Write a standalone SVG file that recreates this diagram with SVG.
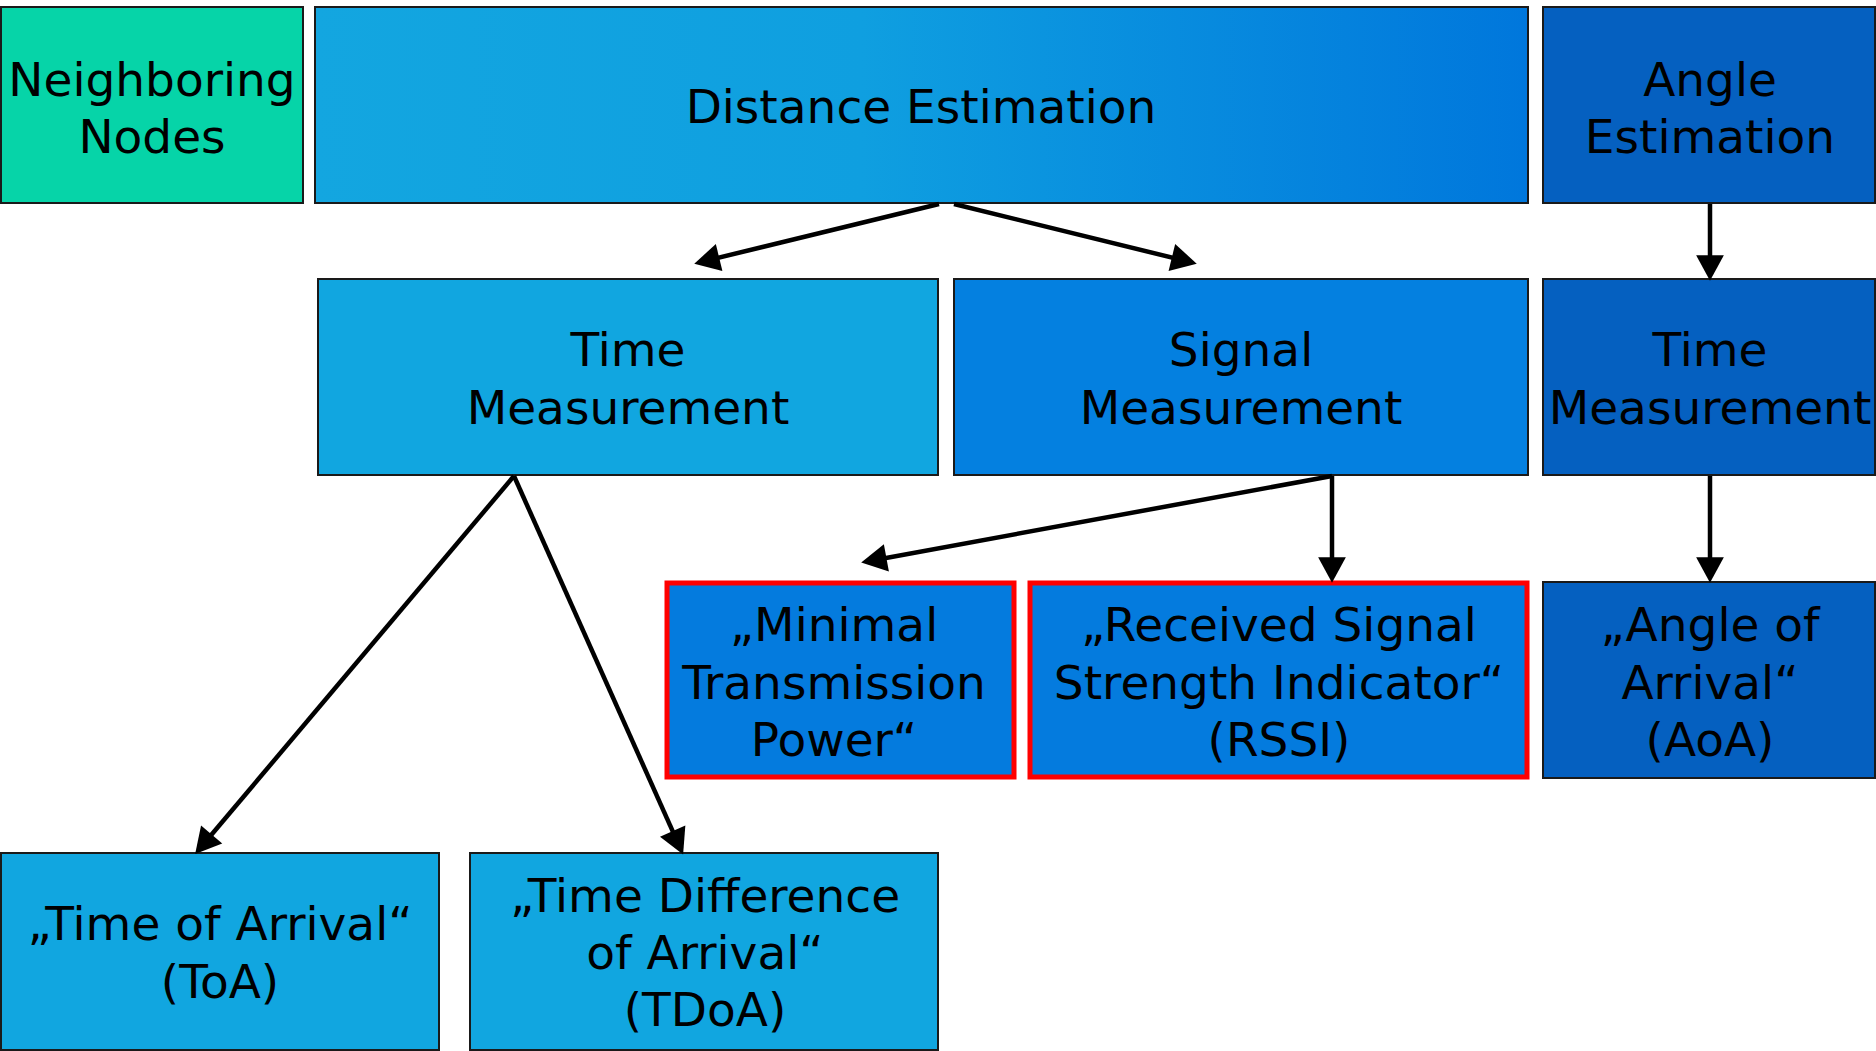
<svg xmlns="http://www.w3.org/2000/svg" width="1876" height="1051" viewBox="0 0 1876 1051">
<defs>
<linearGradient id="gDist" x1="0" y1="0" x2="1" y2="0">
<stop offset="0" stop-color="#13A6E0"/>
<stop offset="0.45" stop-color="#0F9FE0"/>
<stop offset="1" stop-color="#0077DC"/>
</linearGradient>
<marker id="ah" markerUnits="userSpaceOnUse" markerWidth="32" markerHeight="32" refX="12" refY="0" viewBox="-2 -15 30 30" orient="auto">
<path d="M0,-13 L24,0 L0,13 z" fill="#000"/>
</marker>
<style>
.box{stroke:#1a1a1a;stroke-width:2}
.red{stroke:#FF0000;stroke-width:5}
.t{font-family:"DejaVu Sans","Verdana",sans-serif;font-size:47px;fill:#000;text-anchor:middle}
.c{fill:none;stroke:#000;stroke-width:4.5;marker-end:url(#ah)}
</style>
</defs>
<rect width="1876" height="1051" fill="#fff"/>
<g id="neighboring">
<rect class="box" x="1" y="7" width="302" height="196" fill="#06D4A8"/>
<text class="t" x="152" y="96">Neighboring</text>
<text class="t" x="152" y="153">Nodes</text>
</g>
<g id="distance">
<rect class="box" x="315" y="7" width="1213" height="196" fill="url(#gDist)"/>
<text class="t" x="921" y="123">Distance Estimation</text>
</g>
<g id="angle">
<rect class="box" x="1543" y="7" width="332" height="196" fill="#0560C0"/>
<text class="t" x="1710" y="96">Angle</text>
<text class="t" x="1710" y="153">Estimation</text>
</g>
<g id="timeLeft">
<rect class="box" x="318" y="279" width="620" height="196" fill="#11A6E0"/>
<text class="t" x="628" y="366">Time</text>
<text class="t" x="628" y="424">Measurement</text>
</g>
<g id="signal">
<rect class="box" x="954" y="279" width="574" height="196" fill="#0480E0"/>
<text class="t" x="1241" y="366">Signal</text>
<text class="t" x="1241" y="424">Measurement</text>
</g>
<g id="timeRight">
<rect class="box" x="1543" y="279" width="332" height="196" fill="#0560C0"/>
<text class="t" x="1710" y="366">Time</text>
<text class="t" x="1710" y="424">Measurement</text>
</g>
<g id="minimal">
<rect class="red" x="667" y="583" width="347" height="194" fill="#047BDE"/>
<text class="t" x="834" y="641">„Minimal</text>
<text class="t" x="834" y="699">Transmission</text>
<text class="t" x="834" y="756">Power“</text>
</g>
<g id="rssi">
<rect class="red" x="1030" y="583" width="497" height="194" fill="#047BDE"/>
<text class="t" x="1279" y="641">„Received Signal</text>
<text class="t" x="1279" y="699">Strength Indicator“</text>
<text class="t" x="1279" y="756">(RSSI)</text>
</g>
<g id="aoa">
<rect class="box" x="1543" y="582" width="332" height="196" fill="#0560C0"/>
<text class="t" x="1710" y="641">„Angle of</text>
<text class="t" x="1710" y="699">Arrival“</text>
<text class="t" x="1710" y="756">(AoA)</text>
</g>
<g id="toa">
<rect class="box" x="1" y="853" width="438" height="197" fill="#11A6E0"/>
<text class="t" x="220" y="940">„Time of Arrival“</text>
<text class="t" x="220" y="998">(ToA)</text>
</g>
<g id="tdoa">
<rect class="box" x="470" y="853" width="468" height="197" fill="#11A6E0"/>
<text class="t" x="705" y="912">„Time Difference</text>
<text class="t" x="705" y="969">of Arrival“</text>
<text class="t" x="705" y="1026">(TDoA)</text>
</g>
<g id="connectors">
<path class="c" d="M939,204 L706.7,260.6"/>
<path class="c" d="M954,204 L1184.3,260.6"/>
<path class="c" d="M1710,204 L1710,268"/>
<path class="c" d="M514,476 L203.4,844.3"/>
<path class="c" d="M514,476 L677.9,842.9"/>
<path class="c" d="M1332,476 L873.8,560.2"/>
<path class="c" d="M1332,476 L1332,570"/>
<path class="c" d="M1710,476 L1710,570"/>
</g>
</svg>
